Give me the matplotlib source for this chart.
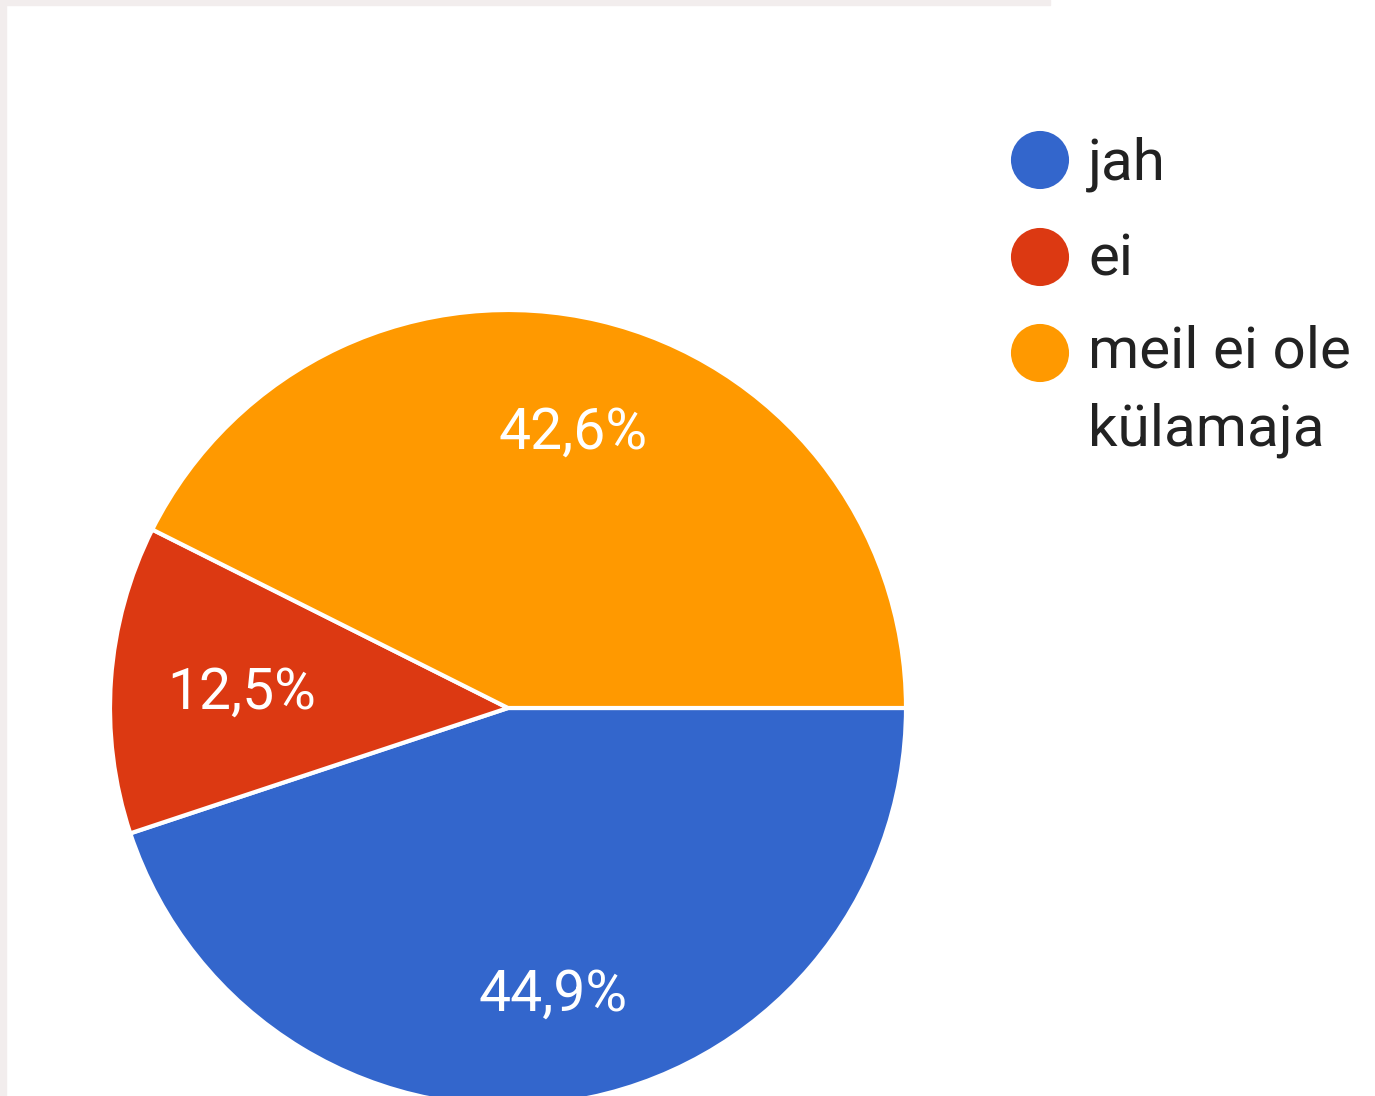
import matplotlib
matplotlib.use("Agg")
import matplotlib.pyplot as plt
from matplotlib.patches import Rectangle

plt.rcParams['font.family'] = ['Roboto', 'DejaVu Sans']

labels = ["jah", "ei", "meil ei ole\nkülamaja"]
shares = [44.9, 12.5, 42.6]
colors = ["#3366CC", "#DC3912", "#FF9900"]

W, H = 1375, 1096
fig = plt.figure(figsize=(W / 100, H / 100), dpi=100)
fig.patch.set_facecolor("white")
ax = fig.add_axes([0, 0, 1, 1])

wedges, texts, autotexts = ax.pie(
    shares, colors=colors, startangle=0, counterclock=False,
    center=(508, H - 708), radius=398,
    autopct=lambda p: f"{p:.1f}%".replace(".", ","), pctdistance=0.71,
    wedgeprops=dict(edgecolor="white", linewidth=3),
    textprops=dict(color="white", fontsize=41),
)
# small nudges so the labels sit where the forms chart puts them
autotexts[0].set_y(autotexts[0].get_position()[1] - 8)
autotexts[1].set_position((autotexts[1].get_position()[0] + 16,
                           autotexts[1].get_position()[1] - 6))

ax.set_xlim(0, W)
ax.set_ylim(0, H)
ax.set_aspect("equal")
ax.axis("off")

# legend drawn by hand, like the google forms one
dot_y = [160, 257, 353]
text_base = [180, 276, 445]
for lab, col, dy, ty in zip(labels, colors, dot_y, text_base):
    ax.scatter([1040], [H - dy], s=1750, color=col, edgecolors="none", zorder=3)
    ax.text(1088, H - ty, lab, fontsize=42, color="#222222", va="baseline",
            ha="left", linespacing=1.52)

# faint screenshot border
fig.patches.append(Rectangle((0, 1 - 5 / H), 1050 / W, 5 / H, transform=fig.transFigure,
                             color="#f2eded", zorder=0))
fig.patches.append(Rectangle((0, 0), 6 / W, 1, transform=fig.transFigure,
                             color="#f2eded", zorder=0))

fig.savefig("out.png", dpi=100)
